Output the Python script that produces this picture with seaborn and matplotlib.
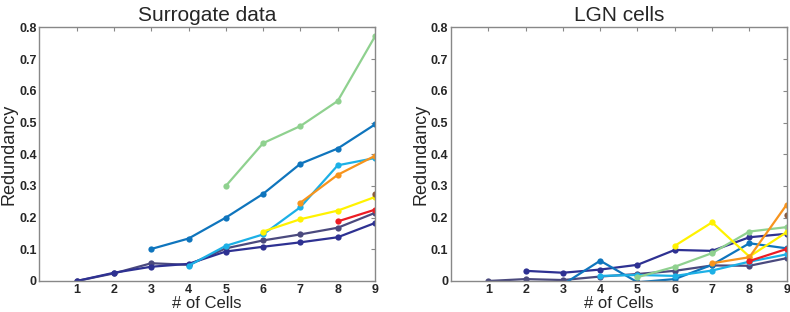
import numpy as np
import pandas as pd
import matplotlib
matplotlib.use("Agg")
import matplotlib.pyplot as plt
import seaborn as sns

# number of cells on the x-axis
cells = [1, 2, 3, 4, 5, 6, 7, 8, 9]
nan = np.nan

# series colours (MATLAB-ish palette)
colors = {
    'slate': '#4b4a7e',
    'navy': '#2e3192',
    'blue': '#0f75bd',
    'cyan': '#1cb0e6',
    'green': '#8fd18f',
    'yellow': '#fff200',
    'orange': '#f7941d',
    'red': '#ed1c24',
    'brown': '#8b5a3c',
}

# Surrogate data panel
surr_slate = [0.0, 0.024, 0.056, 0.051, 0.103, 0.128, 0.147, 0.168, 0.215]
surr_navy = [0.0, 0.026, 0.045, 0.054, 0.093, 0.108, 0.122, 0.138, 0.183]
surr_blue = [nan, nan, 0.101, 0.134, 0.200, 0.275, 0.370, 0.418, 0.494]
surr_cyan = [nan, nan, nan, 0.048, 0.111, 0.147, 0.233, 0.365, 0.388]
surr_green = [nan, nan, nan, nan, 0.300, 0.435, 0.489, 0.568, 0.772]
surr_yellow = [nan, nan, nan, nan, nan, 0.156, 0.195, 0.222, 0.265]
surr_orange = [nan, nan, nan, nan, nan, nan, 0.247, 0.335, 0.395]
surr_red = [nan, nan, nan, nan, nan, nan, nan, 0.188, 0.225]
surr_brown = [nan, nan, nan, nan, nan, nan, nan, nan, 0.275]

# LGN cells panel
lgn_slate = [0.0, 0.006, 0.003, 0.014, 0.022, 0.032, 0.049, 0.048, 0.072]
lgn_navy = [nan, 0.032, 0.026, 0.036, 0.051, 0.098, 0.095, 0.138, 0.149]
lgn_blue = [nan, nan, -0.011, 0.064, -0.004, 0.006, 0.051, 0.119, 0.103]
lgn_cyan = [nan, nan, nan, 0.016, 0.019, 0.016, 0.033, 0.061, 0.084]
lgn_green = [nan, nan, nan, nan, 0.012, 0.045, 0.088, 0.156, 0.170]
lgn_yellow = [nan, nan, nan, nan, nan, 0.111, 0.185, 0.077, 0.154]
lgn_orange = [nan, nan, nan, nan, nan, nan, 0.056, 0.075, 0.241]
lgn_red = [nan, nan, nan, nan, nan, nan, nan, 0.063, 0.101]
lgn_brown = [nan, nan, nan, nan, nan, nan, nan, nan, 0.209]

panels = [
    ('Surrogate data', {'slate': surr_slate, 'navy': surr_navy, 'blue': surr_blue,
                        'cyan': surr_cyan, 'green': surr_green, 'yellow': surr_yellow,
                        'orange': surr_orange, 'red': surr_red, 'brown': surr_brown}),
    ('LGN cells', {'slate': lgn_slate, 'navy': lgn_navy, 'blue': lgn_blue,
                   'cyan': lgn_cyan, 'green': lgn_green, 'yellow': lgn_yellow,
                   'orange': lgn_orange, 'red': lgn_red, 'brown': lgn_brown}),
]

sns.set_style("white")
plt.rcParams['font.family'] = ['Liberation Sans', 'DejaVu Sans']

fig = plt.figure(figsize=(7.9, 3.12), dpi=100)
ax1 = fig.add_axes([0.0499, 0.0994, 0.4248, 0.8126])
ax2 = fig.add_axes([0.5709, 0.0994, 0.4249, 0.8126])

for ax, (title, series) in zip([ax1, ax2], panels):
    for name, vals in series.items():
        df = pd.DataFrame({'cells': cells, 'val': vals}).dropna()
        sns.lineplot(data=df, x='cells', y='val', ax=ax, color=colors[name],
                     marker='o', markersize=4.5, markeredgewidth=0,
                     linewidth=1.6, clip_on=True)
    ax.set_xlim(0, 9)
    ax.set_ylim(0, 0.8)
    ax.set_xticks(cells)
    ax.set_yticks(np.arange(0, 0.81, 0.1))
    ax.set_yticklabels(['0', '0.1', '0.2', '0.3', '0.4', '0.5', '0.6', '0.7', '0.8'])
    ax.tick_params(direction='in', top=True, right=True, length=3, width=0.8,
                   color='#888888', labelsize=9, pad=2)
    for lab in ax.get_xticklabels() + ax.get_yticklabels():
        lab.set_fontweight('bold')
    for sp in ax.spines.values():
        sp.set_color('#888888')
        sp.set_linewidth(1.0)
        sp.set_visible(True)
    ax.set_xlabel('# of Cells', fontsize=12, labelpad=0)
    ax.set_ylabel('Redundancy', fontsize=13, labelpad=1)
    ax.set_title(title, fontsize=15, pad=5)

fig.savefig('out.png', dpi=100)
